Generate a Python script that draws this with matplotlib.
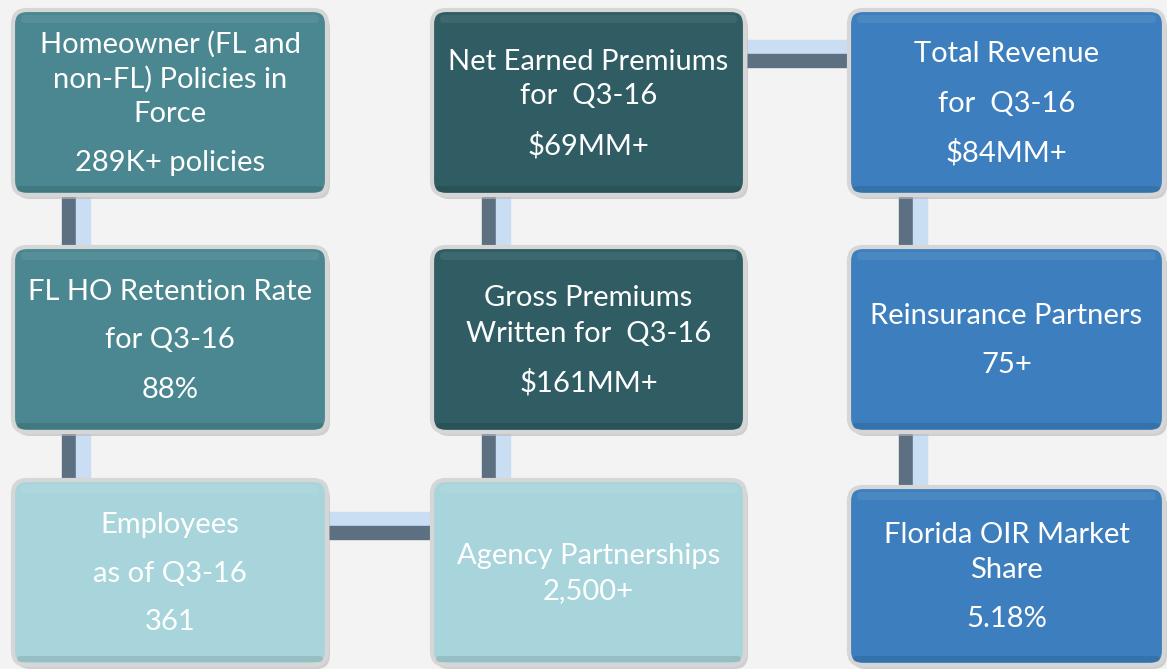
import matplotlib.pyplot as plt
from matplotlib.patches import FancyBboxPatch, Rectangle

# box texts: each box is a list of paragraphs, "\n" splits lines inside a paragraph
titles = [
    ["Homeowner (FL and\nnon-FL) Policies in\nForce", "289K+ policies"],
    ["Net Earned Premiums\nfor  Q3-16", "$69MM+"],
    ["Total Revenue", "for  Q3-16", "$84MM+"],
    ["FL HO Retention Rate", "for Q3-16", "88%"],
    ["Gross Premiums\nWritten for  Q3-16", "$161MM+"],
    ["Reinsurance Partners", "75+"],
    ["Employees", "as of Q3-16", "361"],
    ["Agency Partnerships\n2,500+"],
    ["Florida OIR Market\nShare", "5.18%"],
]
rows = [0, 0, 0, 1, 1, 1, 2, 2, 2]
cols = [0, 1, 2, 0, 1, 2, 0, 1, 2]
fills = ["#4a8790", "#2f5d63", "#3d7fbe",
         "#4a8790", "#2f5d63", "#3d7fbe",
         "#a8d5db", "#a8d5db", "#3d7fbe"]

# layout in pixels
col_x = [(13, 327), (432, 745), (849, 1164)]
row_y = [(10, 195), (247, 432), (480, 665)]
row_y_special = {8: (487, 665)}

fig = plt.figure(figsize=(11.67, 6.69), dpi=100)
fig.patch.set_facecolor("#f3f3f3")
ax = fig.add_axes([0, 0, 1, 1])
ax.set_xlim(0, 1167)
ax.set_ylim(669, 0)
ax.axis("off")


def vtube(x, y0, y1, w=28):
    ax.add_patch(Rectangle((x, y0), w / 2, y1 - y0, color="#5d7082", zorder=1))
    ax.add_patch(Rectangle((x + w / 2, y0), w / 2, y1 - y0, color="#c9def2", zorder=1))


def htube(y, x0, x1, h=27):
    ax.add_patch(Rectangle((x0, y), x1 - x0, h / 2, color="#c9def2", zorder=1))
    ax.add_patch(Rectangle((x0, y + h / 2), x1 - x0, h / 2, color="#5d7082", zorder=1))


# connectors
vtube(62, 190, 250)
vtube(62, 428, 485)
vtube(482, 190, 250)
vtube(482, 428, 485)
vtube(899, 190, 250)
vtube(899, 428, 492)
htube(40, 740, 855)
htube(512, 322, 437)

for i, paras in enumerate(titles):
    x0, x1 = col_x[cols[i]]
    y0, y1 = row_y_special.get(i, row_y[rows[i]])
    r = 14
    # shadow
    ax.add_patch(FancyBboxPatch((x0 + 3, y0 + 4), x1 - x0, y1 - y0,
                                boxstyle=f"round,pad=0,rounding_size={r}",
                                fc="#b8b8b8", ec="none", alpha=0.6, zorder=2))
    # bevel border
    ax.add_patch(FancyBboxPatch((x0, y0), x1 - x0, y1 - y0,
                                boxstyle=f"round,pad=0,rounding_size={r}",
                                fc=fills[i], ec="#d6d6d6", lw=3, zorder=3))
    # top highlight
    ax.add_patch(FancyBboxPatch((x0 + 8, y0 + 5), x1 - x0 - 16, 8,
                                boxstyle="round,pad=0,rounding_size=4",
                                fc="white", ec="none", alpha=0.07, zorder=4))
    # bottom darker edge
    ax.add_patch(FancyBboxPatch((x0 + 4, y1 - 9), x1 - x0 - 8, 6,
                                boxstyle="round,pad=0,rounding_size=3",
                                fc="black", ec="none", alpha=0.10, zorder=4))

    # place text lines: 35 px inside a paragraph, 49 px between paragraphs
    ys = []
    y = 0
    lines = []
    for k, p in enumerate(paras):
        for j, line in enumerate(p.split("\n")):
            if lines:
                y += 35 if j > 0 else 49
            ys.append(y)
            lines.append(line)
    cy = (y0 + y1) / 2 + 1
    off = cy - (ys[0] + ys[-1]) / 2
    cx = (x0 + x1) / 2
    for line, yy in zip(lines, ys):
        ax.text(cx, yy + off, line, ha="center", va="center", color="white",
                fontsize=21, family="Lato", zorder=5)

fig.savefig("out.png", dpi=100, facecolor=fig.get_facecolor())
